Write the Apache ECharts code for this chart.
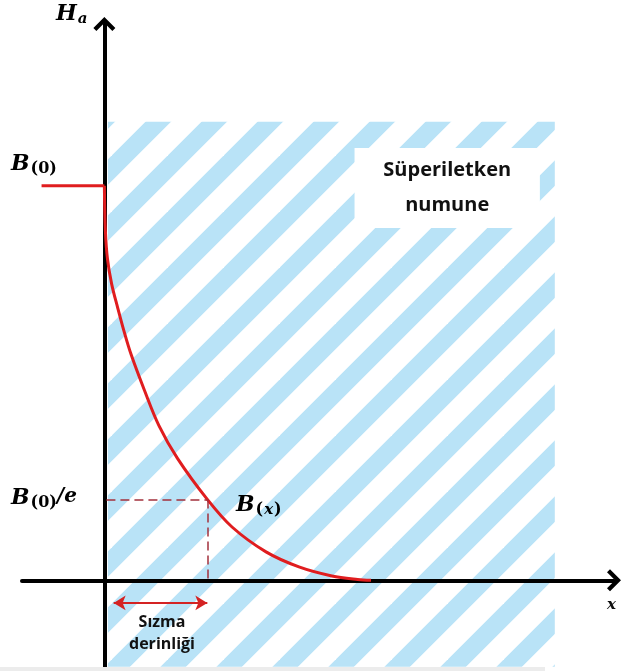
<!DOCTYPE html>
<html>
<head>
<meta charset="utf-8">
<script src="https://cdn.jsdelivr.net/npm/echarts@6/dist/echarts.min.js"></script>
<style>
  html, body { margin: 0; padding: 0; background: #fff; }
  #main { width: 624px; height: 671px; }
</style>
</head>
<body>
<div id="main"></div>
<script>
// B(x)/B(0) against x (unit = penetration depth)
const surfaceX = [-0.61, 0]
const surfaceY = [1, 1]
const curveX = [0, 0.01, 0.03, 0.07, 0.13, 0.19, 0.26, 0.39, 0.53, 0.71, 1.0, 1.24, 1.57, 1.89, 2.21, 2.46, 2.59]
const curveY = [1.0, 0.886, 0.815, 0.752, 0.690, 0.632, 0.572, 0.481, 0.392, 0.309, 0.205, 0.135, 0.072, 0.034, 0.011, 0.002, 0]

// penetration depth and level B(0)/e
const depth = 1.0
const bOverE = 0.205

// sample (striped) region and label box
const sampleX = [0.035, 4.375]
const sampleY = [-0.219, 1.162]
const boxX = [2.43, 4.23]
const boxY = [0.893, 1.096]

const RED = '#e01d1f'
const DASH = '#a3303c'

// diagonal stripe tile
function stripeTile () {
    const t = 56
    const c = document.createElement('canvas')
    c.width = t
    c.height = t
    const ctx = c.getContext('2d')
    ctx.strokeStyle = '#b9e3f7'
    ctx.lineWidth = 18
    ;[0, t, 2 * t].forEach(k => {
        ctx.beginPath()
        ctx.moveTo(k + 100, -100)
        ctx.lineTo(k - 100, 100)
        ctx.stroke()
    })
    return c
}

const chevron = 'path://M11,0 L22,11 L19,14 L11,6 L3,14 L0,11 Z'

const serifB = { fontFamily: 'DejaVu Serif', fontStyle: 'italic', fontWeight: 'bold', fontSize: 22, lineHeight: 24, verticalAlign: 'top', color: '#111' }
const serifSub = { fontFamily: 'DejaVu Serif', fontWeight: 'bold', fontSize: 16, lineHeight: 18, verticalAlign: 'bottom', padding: [11, 0, 0, 1], color: '#111' }
const serifSubIt = Object.assign({}, serifSub, { fontStyle: 'italic', fontSize: 15 })

function serifText (x, y, text) {
    return {
        type: 'text', x: x, y: y, z: 20,
        style: { text: text, rich: { b: serifB, s: serifSub, i: serifSubIt, e: Object.assign({}, serifB, { fontSize: 20 }) } }
    }
}

const chart = echarts.init(document.getElementById('main'))

const axisCommon = {
    type: 'value',
    z: 3,
    axisTick: { show: false },
    axisLabel: { show: false },
    splitLine: { show: false },
    axisLine: {
        onZero: true,
        symbol: ['none', chevron],
        symbolSize: [22, 14],
        lineStyle: { color: '#000', width: 4 }
    }
}

chart.setOption({
    animation: false,
    grid: { left: 22, right: 10, top: 24, bottom: 0 },
    xAxis: Object.assign({}, axisCommon, { min: -0.8, max: 4.95 }),
    yAxis: Object.assign({}, axisCommon, { min: -0.23, max: 1.41 }),
    series: [
        {
            type: 'line',
            data: [],
            silent: true,
            markArea: {
                silent: true,
                z: 1,
                itemStyle: { color: { image: stripeTile(), repeat: 'repeat' }, opacity: 1 },
                data: [[{ coord: [sampleX[0], sampleY[1]] }, { coord: [sampleX[1], sampleY[0]] }]]
            }
        },
        {
            type: 'line',
            data: [],
            silent: true,
            markArea: {
                silent: true,
                z: 2,
                itemStyle: { color: '#fff', opacity: 1 },
                label: {
                    show: true,
                    position: 'inside',
                    formatter: 'Süperiletken\nnumune',
                    fontFamily: 'Open Sans',
                    fontWeight: 'bold',
                    fontSize: 20,
                    lineHeight: 35,
                    color: '#111'
                },
                data: [[{ coord: [boxX[0], boxY[1]] }, { coord: [boxX[1], boxY[0]] }]]
            }
        },
        {
            type: 'line',
            z: 4,
            symbol: 'none',
            silent: true,
            lineStyle: { color: RED, width: 3 },
            data: surfaceX.map((x, i) => [x, surfaceY[i]])
        },
        {
            type: 'line',
            z: 4,
            symbol: 'none',
            smooth: 0.35,
            silent: true,
            lineStyle: { color: RED, width: 3 },
            data: curveX.map((x, i) => [x, curveY[i]]),
            markLine: {
                silent: true,
                symbol: 'none',
                label: { show: false },
                lineStyle: { color: DASH, width: 1.5, type: [9, 5] },
                data: [
                    [{ coord: [0.02, bOverE] }, { coord: [depth, bOverE] }],
                    [{ coord: [depth, bOverE] }, { coord: [depth, 0] }]
                ]
            }
        },
        {
            type: 'line',
            data: [],
            silent: true,
            markLine: {
                silent: true,
                symbol: ['arrow', 'arrow'],
                symbolSize: [11, 12],
                label: { show: false },
                lineStyle: { color: '#d42323', width: 2, type: 'solid' },
                data: [[{ coord: [0.09, -0.0575] }, { coord: [depth, -0.0575] }]]
            }
        }
    ],
    graphic: [
        serifText(56, 3, '{b|H}{i|a}'),
        serifText(11, 153, '{b|B}{s|(0)}'),
        serifText(11, 487, '{b|B}{s|(0)}{e|/e}'),
        serifText(236, 494, '{b|B}{s|(}{i|x}{s|)}'),
        {
            type: 'text', x: 607, y: 598, z: 20,
            style: { text: 'x', font: 'italic bold 15px "DejaVu Serif"', fill: '#111' }
        },
        {
            type: 'text', x: 162, y: 611, z: 20,
            style: {
                text: 'Sızma\nderinliği',
                font: 'bold 16px "Open Sans"',
                lineHeight: 22,
                align: 'center',
                fill: '#111'
            }
        },
        {
            type: 'rect', z: 20,
            shape: { x: 0, y: 667, width: 545, height: 4 },
            style: { fill: '#ececec' }
        }
    ]
})
</script>
</body>
</html>
